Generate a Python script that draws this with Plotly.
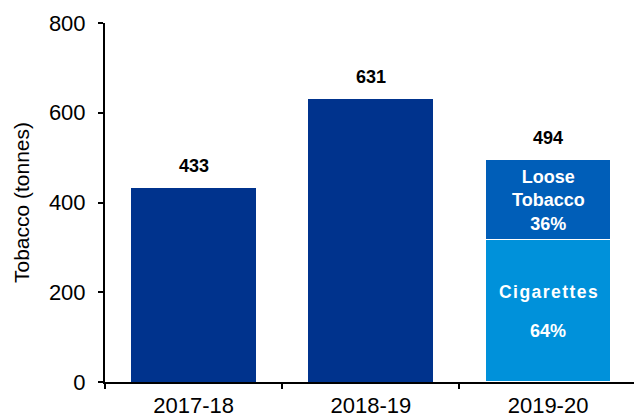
import plotly.graph_objects as go

# Tobacco seized, tonnes per year
years = ["2017-18", "2018-19", "2019-20"]
totals = [433, 631, 494]

# 2019-20 split by product type
cigarette_share = 0.64
loose_share = 0.36
cigarettes_2019 = totals[2] * cigarette_share
loose_2019 = totals[2] * loose_share

DARK_BLUE = "#00338D"
MID_BLUE = "#005EB8"
LIGHT_BLUE = "#0091DA"
FONT = "Liberation Sans, Arial, sans-serif"
BAR_WIDTH = 0.705
HAIR = "\u200a"

fig = go.Figure()

# Single-colour bars for the first two years
fig.add_trace(go.Bar(
    x=years[:2], y=totals[:2], width=BAR_WIDTH,
    marker=dict(color=DARK_BLUE, line=dict(width=0)),
    hoverinfo="skip", showlegend=False,
))

# Stacked breakdown for the latest year
fig.add_trace(go.Bar(
    x=[years[2]], y=[cigarettes_2019], width=BAR_WIDTH,
    marker=dict(color=LIGHT_BLUE, line=dict(color="white", width=1)),
    hoverinfo="skip", showlegend=False,
))
fig.add_trace(go.Bar(
    x=[years[2]], y=[loose_2019], width=BAR_WIDTH,
    marker=dict(color=MID_BLUE, line=dict(color="white", width=1)),
    hoverinfo="skip", showlegend=False,
))

annotations = []
# Totals above each bar
for yr, tot in zip(years, totals):
    annotations.append(dict(
        x=yr, y=tot, text=f"<b>{tot}</b>", showarrow=False,
        xref="x", yref="y", yanchor="middle", yshift=22,
        font=dict(family=FONT, size=18, color="black"),
    ))

# Labels inside the stacked segments
loose_mid = cigarettes_2019 + loose_2019 / 2
annotations.append(dict(
    x=years[2], y=loose_mid,
    text=f"<b>Loose<br>Tobacco<br>{round(loose_share * 100)}%</b>",
    showarrow=False, xref="x", yref="y", yanchor="middle",
    font=dict(family=FONT, size=18, color="white"),
))
cig_mid = cigarettes_2019 / 2
spaced = HAIR.join("Cigarettes")
annotations.append(dict(
    x=years[2], y=cig_mid, text=f"<b>{spaced}</b>",
    showarrow=False, xref="x", yref="y", yanchor="middle", yshift=19,
    font=dict(family=FONT, size=17.5, color="white"),
))
annotations.append(dict(
    x=years[2], y=cig_mid, text=f"<b>{round(cigarette_share * 100)}%</b>",
    showarrow=False, xref="x", yref="y", yanchor="middle", yshift=-20,
    font=dict(family=FONT, size=18, color="white"),
))

fig.update_layout(
    width=634, height=414,
    margin=dict(l=105, r=0, t=23, b=32),
    paper_bgcolor="white", plot_bgcolor="white",
    barmode="stack", bargap=0,
    annotations=annotations,
    font=dict(family=FONT, size=22, color="black"),
)

fig.update_xaxes(
    type="category", range=[-0.5, 2.485], automargin=False,
    showline=True, linecolor="black", linewidth=2,
    ticks="outside", tickson="boundaries", ticklen=5, tickwidth=2, tickcolor="black",
    showgrid=False, zeroline=False,
    tickfont=dict(family=FONT, size=22, color="black"),
    ticklabelstandoff=3,
)

fig.update_yaxes(
    range=[0, 800], tickvals=[0, 200, 400, 600, 800], automargin=False,
    showline=True, linecolor="black", linewidth=2,
    ticks="outside", ticklen=5, tickwidth=2, tickcolor="black",
    showgrid=False, zeroline=False,
    tickfont=dict(family=FONT, size=22, color="black"),
    ticklabelstandoff=8,
    title=dict(text="Tobacco (tonnes)", font=dict(family=FONT, size=21, color="black"), standoff=14),
)

fig.write_html("out.html")
